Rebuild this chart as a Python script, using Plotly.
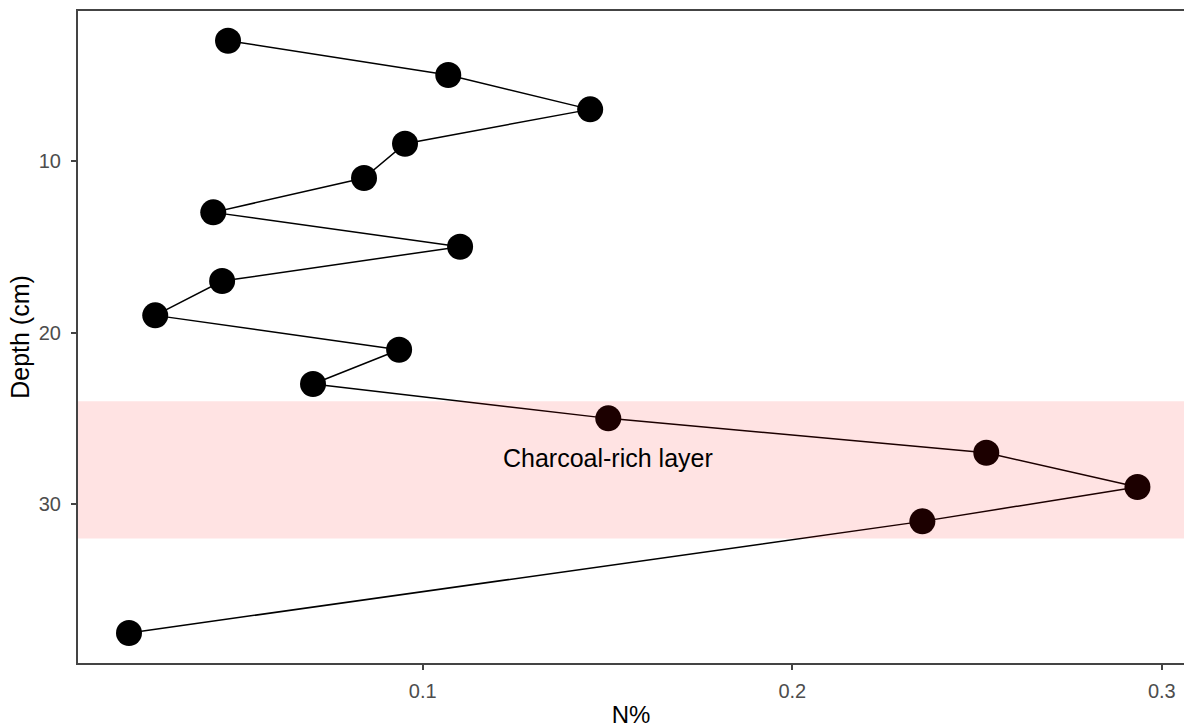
import plotly.graph_objects as go

# Nitrogen profile down the core
depth_cm = [3, 5, 7, 9, 11, 13, 15, 17, 19, 21, 23, 25, 27, 29, 31, 37.5]
n_pct = [0.0473, 0.1069, 0.1453, 0.0952, 0.0841, 0.0433, 0.1101, 0.0457,
         0.0276, 0.0936, 0.0703, 0.1502, 0.2525, 0.2934, 0.2352, 0.0205]

# Charcoal-rich horizon
layer_top, layer_bottom = 24, 32
layer_label = "Charcoal-rich layer"
label_x, label_depth = 0.15, 27.3

x_ticks = [0.1, 0.2, 0.3]
y_ticks = [10, 20, 30]

font_family = "Arial, Liberation Sans, sans-serif"

fig = go.Figure()
fig.add_trace(go.Scatter(
    x=n_pct, y=depth_cm, mode="lines+markers",
    line=dict(color="black", width=1.5),
    marker=dict(color="black", size=26),
    showlegend=False, cliponaxis=False,
))

fig.add_shape(type="rect", xref="paper", x0=0, x1=1, yref="y",
              y0=layer_top, y1=layer_bottom, layer="above",
              fillcolor="rgba(255,0,0,0.11)", line=dict(width=0))

fig.add_annotation(x=label_x, y=label_depth, text=layer_label,
                   showarrow=False,
                   font=dict(family=font_family, size=25, color="black"))

axis_common = dict(
    showgrid=False, zeroline=False, showline=True, linecolor="#444444",
    linewidth=2, ticks="outside", ticklen=5, tickcolor="#444444",
    tickwidth=2, automargin=False,
    tickfont=dict(family=font_family, size=20, color="#4D4D4D"),
)

fig.update_xaxes(range=[0.0067, 0.306], tickvals=x_ticks,
                 ticktext=[str(v) for v in x_ticks], mirror=True,
                 ticklabelstandoff=4,
                 title=dict(text="N%", standoff=8,
                            font=dict(family=font_family, size=24, color="black")),
                 **axis_common)
fig.update_yaxes(range=[39.25, 1.27], tickvals=y_ticks, mirror=False,
                 ticklabelstandoff=6,
                 title=dict(text="Depth (cm)", standoff=2,
                            font=dict(family=font_family, size=25, color="black")),
                 **axis_common)

fig.update_layout(
    width=1184, height=728,
    margin=dict(l=78, r=0, t=11, b=65),
    paper_bgcolor="white", plot_bgcolor="white",
)

fig.write_html("out.html")
